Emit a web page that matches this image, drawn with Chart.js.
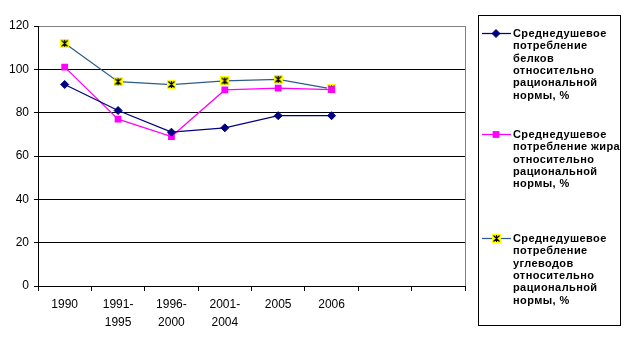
<!DOCTYPE html>
<html>
<head>
<meta charset="utf-8">
<script src="https://cdn.jsdelivr.net/npm/chart.js@4.4.0/dist/chart.umd.min.js"></script>
<style>
 html, body { margin: 0; padding: 0; background: #ffffff; }
 #idCourbe-div { width: 626px; height: 337px; }
</style>
</head>
<body>
<div id="idCourbe-div"><canvas id="idCourbe" width="626" height="337"></canvas></div>
<script>
/********************************* Données ************************************************************************************/
 var Categories = [ "1990", ["1991-","1995"], ["1996-","2000"], ["2001-","2004"], "2005", "2006", "", "" ];
 var Belki      = [  93,   81,   71,   73, 78.6, 78.6, null, null ];
 var Jiry       = [ 101,   77,   69, 90.5, 91.3, 90.6, null, null ];
 var Uglevody   = [ 112, 94.3,   93, 94.7, 95.4,   91, null, null ];

 var Legende_belki    = [ "Среднедушевое", "потребление", "белков", "относительно", "рациональной", "нормы, %" ];
 var Legende_jiry     = [ "Среднедушевое", "потребление жира", "относительно", "рациональной", "нормы, %" ];
 var Legende_uglevody = [ "Среднедушевое", "потребление", "углеводов", "относительно", "рациональной", "нормы, %" ];

 var Police = "'Liberation Sans', Arial, sans-serif";

/********************************* Marqueur étoile jaune (style Excel) ********************************************************/
 function Creer_marqueur_etoile ()
  { var c = document.createElement("canvas");
    c.width = 9; c.height = 9;
    var ctx = c.getContext("2d");
    ctx.fillStyle = "#ffff00";
    ctx.fillRect( 0, 0, 9, 9 );
    ctx.strokeStyle = "#000000";
    ctx.lineWidth = 1.2;
    ctx.beginPath();
    ctx.moveTo( 4.5, 1 );   ctx.lineTo( 4.5, 8 );
    ctx.moveTo( 1.5, 1.5 ); ctx.lineTo( 7.5, 7.5 );
    ctx.moveTo( 7.5, 1.5 ); ctx.lineTo( 1.5, 7.5 );
    ctx.stroke();
    return(c);
  }
 var Etoile = Creer_marqueur_etoile();

/********************************* Dessin d'un marqueur dans la légende *******************************************************/
 function Dessiner_marqueur ( ctx, ds, x, y )
  { ctx.fillStyle = ds.pointBackgroundColor;
    ctx.strokeStyle = ds.pointBorderColor;
    ctx.lineWidth = 1;
    if (ds.pointStyle == "rectRot")
     { var r = ds.pointRadius;
       ctx.beginPath();
       ctx.moveTo( x, y-r ); ctx.lineTo( x+r, y ); ctx.lineTo( x, y+r ); ctx.lineTo( x-r, y ); ctx.closePath();
       ctx.fill(); ctx.stroke();
     }
    else if (ds.pointStyle == "rect")
     { var s = ds.pointRadius * Math.SQRT1_2;
       ctx.fillRect( x-s, y-s, 2*s, 2*s );
     }
    else ctx.drawImage( ds.pointStyle, Math.round(x-ds.pointStyle.width/2), Math.round(y-ds.pointStyle.height/2) );
  }

/********************************* Plugin: bordure droite de la zone de tracé *************************************************/
 var Bordure_plugin =
  { id: "bordure",
    beforeDatasetsDraw: function (chart)
     { var a = chart.chartArea, ctx = chart.ctx;
       ctx.save();
       ctx.strokeStyle = "#808080";
       ctx.lineWidth = 1;
       ctx.beginPath();
       ctx.moveTo( Math.round(a.right)+0.5, a.top );
       ctx.lineTo( Math.round(a.right)+0.5, a.bottom );
       ctx.stroke();
       ctx.restore();
     }
  };

/********************************* Plugin: légende encadrée à droite **********************************************************/
 var Legende_plugin =
  { id: "legende",
    afterDraw: function (chart)
     { var ctx = chart.ctx;
       var debut = [ 33, 134, 238 ];                                              /* Centre de la première ligne de chaque entrée */
       ctx.save();
       ctx.strokeStyle = "#000000";
       ctx.lineWidth = 1;
       ctx.strokeRect( 478.5, 15.5, 142, 310 );
       chart.data.datasets.forEach( function (ds, i)
        { var y = debut[i];
          ctx.strokeStyle = ds.borderColor;
          ctx.lineWidth = ds.borderWidth;
          ctx.beginPath(); ctx.moveTo( 482, y+0.5 ); ctx.lineTo( 511, y+0.5 ); ctx.stroke();
          Dessiner_marqueur ( ctx, ds, 496, y+0.5 );
          ctx.fillStyle = "#000000";
          ctx.font = "bold 11px " + Police;
          ctx.letterSpacing = "0.4px";
          ctx.textBaseline = "middle";
          ctx.textAlign = "left";
          ds.legende.forEach( function (ligne, j) { ctx.fillText( ligne, 513, y + 1 + j*12.3 ); } );
        });
       ctx.restore();
     }
  };

/********************************* Création du graphe *************************************************************************/
 var ctx = document.getElementById("idCourbe").getContext("2d");
 var data = { labels: Categories,
              datasets: [ { label: Legende_belki.join(" "), legende: Legende_belki, data: Belki,
                            borderColor: "#000080", borderWidth: 1.25,
                            pointStyle: "rectRot", pointRadius: 4,
                            pointBackgroundColor: "#000080", pointBorderColor: "#000080", pointBorderWidth: 1
                          },
                          { label: Legende_jiry.join(" "), legende: Legende_jiry, data: Jiry,
                            borderColor: "#ff00ff", borderWidth: 1.25,
                            pointStyle: "rect", pointRadius: 4.8,
                            pointBackgroundColor: "#ff00ff", pointBorderColor: "#ff00ff", pointBorderWidth: 0
                          },
                          { label: Legende_uglevody.join(" "), legende: Legende_uglevody, data: Uglevody,
                            borderColor: "#2e5c8a", borderWidth: 1.25,
                            pointStyle: Etoile, pointRadius: 4.5,
                            pointBackgroundColor: "#ffff00", pointBorderColor: "#000000"
                          }
                        ]
            };

 var options = { responsive: false,
                 animation: false,
                 devicePixelRatio: 1,
                 events: [],
                 layout: { padding: { left: 0, right: 161, top: 26, bottom: 0 } },
                 plugins: { legend: { display: false },
                            tooltip: { enabled: false }
                          },
                 scales: { x: { offset: true,
                                grid: { offset: true, drawOnChartArea: false, color: "#000000", tickLength: 5 },
                                border: { color: "#000000", width: 1 },
                                ticks: { color: "#000000", font: { family: Police, size: 12, lineHeight: 1.5 }, padding: 5,
                                         maxRotation: 0, autoSkip: false },
                                afterFit: function (scale) { scale.height = 51; }
                              },
                           y: { min: 0, max: 120,
                                grid: { color: function (c) { return( c.tick && c.tick.value == 120 ? "#808080" : "#000000" ); },
                                        tickColor: "#000000", tickLength: 4 },
                                border: { color: "#000000", width: 1 },
                                ticks: { stepSize: 20, color: "#000000", font: { family: Police, size: 12 }, padding: 5 },
                                afterFit: function (scale) { scale.width = 38; }
                              }
                         }
               };

 var Graphe = new Chart( ctx, { type: "line", data: data, options: options, plugins: [ Bordure_plugin, Legende_plugin ] } );
</script>
</body>
</html>
